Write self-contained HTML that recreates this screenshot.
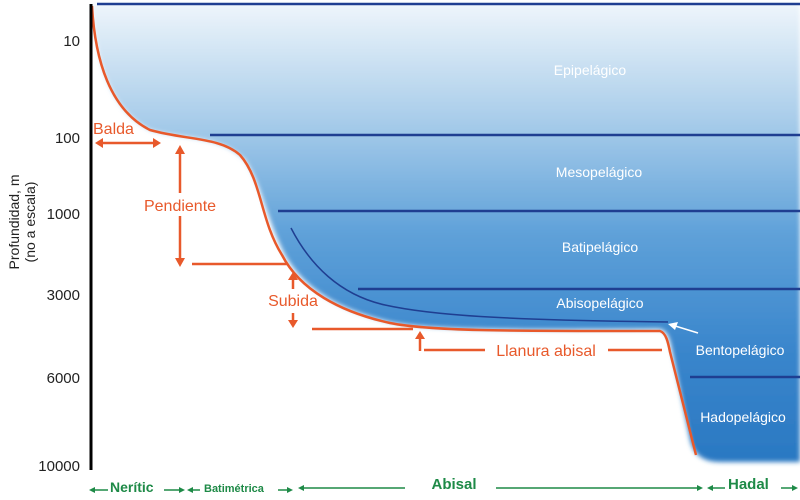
<!DOCTYPE html>
<html><head><meta charset="utf-8"><style>
html,body{margin:0;padding:0;background:#fff;width:800px;height:500px;overflow:hidden}
text{font-family:"Liberation Sans","DejaVu Sans",sans-serif}
</style></head><body>
<svg width="800" height="500" viewBox="0 0 800 500" xmlns="http://www.w3.org/2000/svg">
<defs>
<linearGradient id="w" x1="0" y1="0" x2="0" y2="1">
<stop offset="0" stop-color="#eef5fb"/>
<stop offset="0.25" stop-color="#a9cdea"/>
<stop offset="0.5" stop-color="#5fa1d9"/>
<stop offset="0.75" stop-color="#3a86cc"/>
<stop offset="1" stop-color="#2a78c2"/>
</linearGradient>
<filter id="bl"><feGaussianBlur stdDeviation="2.5"/></filter>
</defs>
<path d="M92,4 C95,60 110,110 150,130 C185,140 220,135 245,160 C262,185 265,215 285,255 C305,290 340,310 390,322 C430,330 500,330 660,329 C668,331 670,340 672,350 L690,440 Q695,462 720,462 L800,462 L800,4 Z" fill="url(#w)" filter="url(#bl)"/>
<line x1="97" y1="4" x2="800" y2="4" stroke="#1f3e91" stroke-width="2.5"/>
<line x1="210" y1="135" x2="800" y2="135" stroke="#1f3e91" stroke-width="2.5"/>
<line x1="278" y1="211" x2="800" y2="211" stroke="#1f3e91" stroke-width="2.5"/>
<line x1="358" y1="289" x2="800" y2="289" stroke="#1f3e91" stroke-width="2.5"/>
<line x1="690" y1="377" x2="800" y2="377" stroke="#1f3e91" stroke-width="2.5"/>
<path d="M291,228 C310,265 340,295 385,305 C430,315 500,320 668,322" fill="none" stroke="#1f3e91" stroke-width="1.5"/>
<path d="M92,6 C95,60 110,110 150,130 C185,140 220,137 240,155 C262,180 260,220 282,255 C300,290 340,312 390,323 C430,331 500,331 660,331 C666,333 668,342 670,352 L696,455" fill="none" stroke="#e8592b" stroke-width="2.5"/>
<line x1="91" y1="4" x2="91" y2="470" stroke="#000" stroke-width="3"/>
<g font-size="15" fill="#222" text-anchor="end">
<text x="80" y="46">10</text><text x="80" y="143">100</text><text x="80" y="219">1000</text>
<text x="80" y="300">3000</text><text x="80" y="383">6000</text><text x="80" y="471">10000</text>
</g>
<text transform="translate(19,222) rotate(-90)" font-size="14" fill="#222" text-anchor="middle">Profundidad, m</text>
<text transform="translate(35,222) rotate(-90)" font-size="14" fill="#222" text-anchor="middle">(no a escala)</text>
<g fill="#fff" font-size="14" text-anchor="middle">
<text x="590" y="75">Epipelágico</text><text x="599" y="177">Mesopelágico</text>
<text x="600" y="252">Batipelágico</text><text x="600" y="308">Abisopelágico</text>
<text x="740" y="355">Bentopelágico</text><text x="743" y="422">Hadopelágico</text>
</g>
<line x1="698" y1="333" x2="672" y2="325" stroke="#fff" stroke-width="1.5"/>
<path d="M668,324 L678,322 L675,330 Z" fill="#fff"/>
<g stroke="#e8592b" stroke-width="2.5" fill="#e8592b">
<line x1="98" y1="143" x2="156" y2="143"/>
<path d="M95,143 L103,138 L103,148Z" stroke="none"/><path d="M161,143 L153,138 L153,148Z" stroke="none"/>
<line x1="180" y1="150" x2="180" y2="193"/><line x1="180" y1="216" x2="180" y2="262"/>
<path d="M180,145 L175,154 L185,154Z" stroke="none"/><path d="M180,267 L175,258 L185,258Z" stroke="none"/>
<line x1="192" y1="264" x2="288" y2="264"/>
<line x1="293" y1="277" x2="293" y2="289"/><path d="M293,272 L288,280 L298,280Z" stroke="none"/>
<line x1="293" y1="313" x2="293" y2="323"/><path d="M293,328 L288,320 L298,320Z" stroke="none"/>
<line x1="312" y1="329" x2="413" y2="329"/>
<line x1="420" y1="337" x2="420" y2="351"/><path d="M420,331 L415,339 L425,339Z" stroke="none"/>
<line x1="424" y1="350" x2="485" y2="350"/><line x1="608" y1="350" x2="662" y2="350"/>
</g>
<g fill="#e8592b" font-size="16">
<text x="93" y="134">Balda</text>
<text x="180" y="211" text-anchor="middle">Pendiente</text>
<text x="293" y="306" text-anchor="middle">Subida</text>
<text x="546" y="356" text-anchor="middle">Llanura abisal</text>
</g>
<g stroke="#1e8a47" stroke-width="1.5" fill="#1e8a47">
<line x1="92" y1="490" x2="108" y2="490"/><path d="M89,490 L95,487 L95,493Z" stroke="none"/>
<line x1="164" y1="490" x2="182" y2="490"/><path d="M185,490 L179,487 L179,493Z" stroke="none"/>
<line x1="190" y1="490" x2="200" y2="490"/><path d="M187,490 L193,487 L193,493Z" stroke="none"/>
<line x1="278" y1="490" x2="290" y2="490"/><path d="M293,490 L287,487 L287,493Z" stroke="none"/>
<line x1="301" y1="488" x2="405" y2="488"/><path d="M298,488 L304,485 L304,491Z" stroke="none"/>
<line x1="496" y1="488" x2="700" y2="488"/><path d="M703,488 L697,485 L697,491Z" stroke="none"/>
<line x1="710" y1="488" x2="725" y2="488"/><path d="M707,488 L713,485 L713,491Z" stroke="none"/>
<line x1="781" y1="488" x2="795" y2="488"/><path d="M798,488 L792,485 L792,491Z" stroke="none"/>
</g>
<g fill="#1e8a47" font-weight="bold">
<text x="110" y="492" font-size="14">Nerític</text>
<text x="204" y="492" font-size="11">Batimétrica</text>
<text x="454" y="489" font-size="15" text-anchor="middle">Abisal</text>
<text x="728" y="489" font-size="15">Hadal</text>
</g>
</svg>
</body></html>
